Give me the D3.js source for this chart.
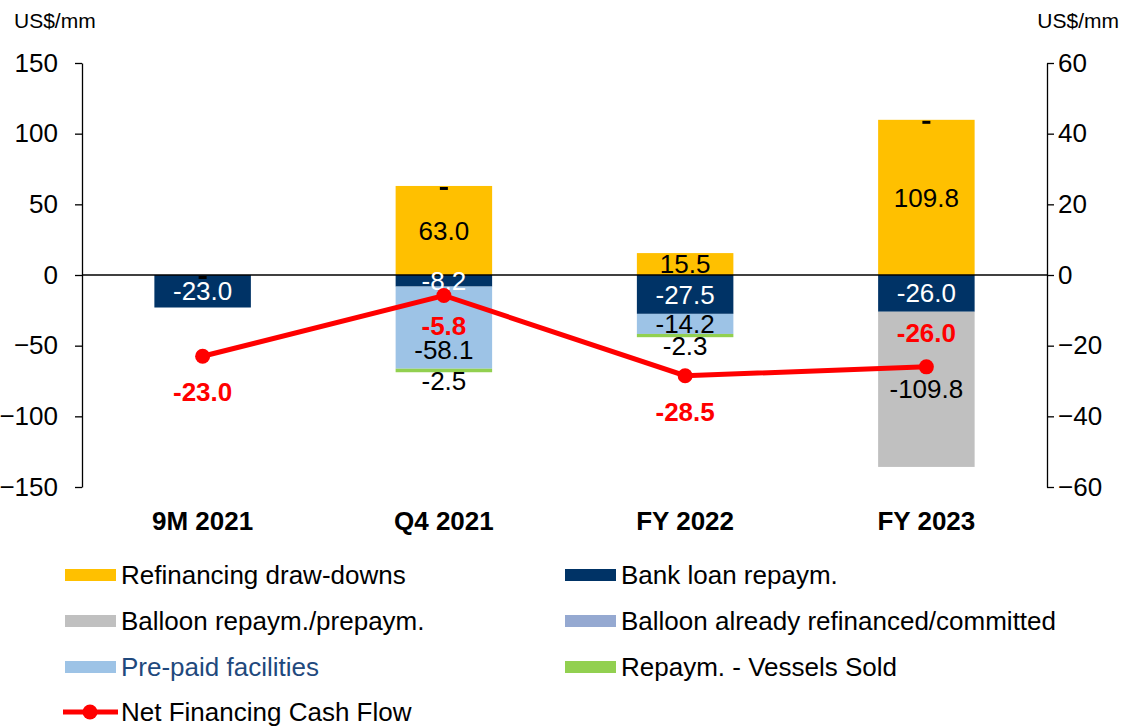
<!DOCTYPE html>
<html>
<head>
<meta charset="utf-8">
<script src="https://cdn.jsdelivr.net/npm/d3@7"></script>
<style>
  body { margin: 0; background: #fff; font-family: "Liberation Sans", Arial, sans-serif; }
  svg text { font-family: "Liberation Sans", Arial, sans-serif; }
</style>
</head>
<body>
<svg id="chart" width="1122" height="726"></svg>
<script>
// chart data
const categories = ["9M 2021", "Q4 2021", "FY 2022", "FY 2023"];
const refinancing = [0, 63.0, 15.5, 109.8];
const bankLoan = [-23.0, -8.2, -27.5, -26.0];
const balloon = [0, 0, 0, -109.8];
const balloonRefinanced = [0, 0, null, 0];
const prePaid = [0, -58.1, -14.2, 0];
const vesselsSold = [0, -2.5, -2.3, 0];
const netCashFlow = [-23.0, -5.8, -28.5, -26.0];
const leftTicks = [150, 100, 50, 0, -50, -100, -150];
const rightTicks = [60, 40, 20, 0, -20, -40, -60];

const series = [
    { name: "Refinancing draw-downs", values: refinancing, color: "#FFC000", text: "#000" },
    { name: "Bank loan repaym.", values: bankLoan, color: "#003366", text: "#fff" },
    { name: "Balloon repaym./prepaym.", values: balloon, color: "#C0C0C0", text: "#000" },
    { name: "Balloon already refinanced/committed", values: balloonRefinanced, color: "#95A9D1", text: "#000" },
    { name: "Pre-paid facilities", values: prePaid, color: "#9DC3E6", text: "#000" },
    { name: "Repaym. - Vessels Sold", values: vesselsSold, color: "#92D050", text: "#000" }
];

const svg = d3.select("#chart");
const plotLeft = 82, plotRight = 1047, plotTop = 63, plotBottom = 487;
const fs = 26;

const x = d3.scaleBand().domain(categories).range([plotLeft, plotRight]).paddingInner(0.6).paddingOuter(0.3);
const y = d3.scaleLinear().domain([-150, 150]).range([plotBottom, plotTop]);
const y2 = d3.scaleLinear().domain([-60, 60]).range([plotBottom, plotTop]);

// axes
const axL = svg.append("g").attr("transform", `translate(${plotLeft},0)`)
    .call(d3.axisLeft(y).tickValues(leftTicks).tickSize(7).tickSizeOuter(0).tickPadding(17));
const axR = svg.append("g").attr("transform", `translate(${plotRight},0)`)
    .call(d3.axisRight(y2).tickValues(rightTicks).tickSize(7).tickSizeOuter(0).tickPadding(4));
[axL, axR].forEach(a => {
    a.selectAll("path, line").attr("stroke", "#000").attr("stroke-width", 1.3);
    a.selectAll("text").attr("font-size", fs).attr("fill", "#000");
});

svg.append("text").attr("x", 14).attr("y", 28).attr("font-size", 21).text("US$/mm");
svg.append("text").attr("x", 1119).attr("y", 28).attr("font-size", 21).attr("text-anchor", "end").text("US$/mm");

// stacked bars
const segs = [];
categories.forEach((c, i) => {
    let pos = 0, neg = 0;
    series.forEach(s => {
        const v = s.values[i];
        if (v === null) return;
        let y0, y1;
        if (v >= 0) { y0 = pos; y1 = pos + v; pos = y1; }
        else { y0 = neg; y1 = neg + v; neg = y1; }
        segs.push({ cat: c, i, v, y0, y1, s });
    });
});

svg.append("g").selectAll("rect")
    .data(segs.filter(d => d.v !== 0))
    .enter().append("rect")
    .attr("x", d => x(d.cat))
    .attr("width", x.bandwidth())
    .attr("y", d => y(Math.max(d.y0, d.y1)))
    .attr("height", d => Math.abs(y(d.y0) - y(d.y1)))
    .attr("fill", d => d.s.color);

// zero line
svg.append("line").attr("x1", plotLeft).attr("x2", plotRight).attr("y1", y(0)).attr("y2", y(0))
    .attr("stroke", "#000").attr("stroke-width", 1.3);

// segment labels
const labelG = svg.append("g");
segs.forEach(d => {
    if (d.v === 0) {
        // zero values of the committed-balloon series show as a dash
        if (d.s.name !== "Balloon already refinanced/committed") return;
        labelG.append("rect").attr("x", x(d.cat) + x.bandwidth() / 2 - 4).attr("y", y(d.y0) + 1)
            .attr("width", 8).attr("height", 3).attr("fill", "#000");
        return;
    }
    let ty = y((d.y0 + d.y1) / 2);
    if (d.s.name === "Repaym. - Vessels Sold") ty = y(d.y1) + 9;
    if (d.s.name === "Pre-paid facilities" && d.cat === "Q4 2021") ty += 22;
    labelG.append("text")
        .attr("x", x(d.cat) + x.bandwidth() / 2)
        .attr("y", ty)
        .attr("dy", "0.35em")
        .attr("text-anchor", "middle")
        .attr("font-size", fs)
        .attr("fill", d.s.text)
        .text(d.v.toFixed(1));
});

// net financing line
const cx = c => x(c) + x.bandwidth() / 2;
svg.append("path")
    .datum(netCashFlow)
    .attr("fill", "none").attr("stroke", "#FF0000").attr("stroke-width", 5)
    .attr("d", d3.line().x((d, i) => cx(categories[i])).y(d => y2(d)));
svg.append("g").selectAll("circle")
    .data(netCashFlow).enter().append("circle")
    .attr("cx", (d, i) => cx(categories[i])).attr("cy", d => y2(d)).attr("r", 7.5)
    .attr("fill", "#FF0000");
svg.append("g").selectAll("text")
    .data(netCashFlow).enter().append("text")
    .attr("x", (d, i) => cx(categories[i]))
    .attr("y", (d, i) => y2(d) + (i === 3 ? -34 : (i === 1 ? 30 : 36)))
    .attr("dy", "0.35em")
    .attr("text-anchor", "middle")
    .attr("font-size", fs).attr("font-weight", "bold").attr("fill", "#FF0000")
    .text(d => d.toFixed(1));

// category labels
svg.append("g").selectAll("text")
    .data(categories).enter().append("text")
    .attr("x", d => cx(d)).attr("y", 521).attr("dy", "0.35em")
    .attr("text-anchor", "middle").attr("font-size", fs).attr("font-weight", "bold")
    .text(d => d);

// legend
const legendItems = [
    { s: series[0], col: 0, row: 0 },
    { s: series[1], col: 1, row: 0 },
    { s: series[2], col: 0, row: 1 },
    { s: series[3], col: 1, row: 1 },
    { s: series[4], col: 0, row: 2, textColor: "#1F497D" },
    { s: series[5], col: 1, row: 2 }
];
const lg = svg.append("g");
legendItems.forEach(it => {
    const lx = it.col === 0 ? 65 : 565;
    const ly = 575 + it.row * 46;
    lg.append("rect").attr("x", lx).attr("y", ly - 6).attr("width", 51).attr("height", 12).attr("fill", it.s.color);
    lg.append("text").attr("x", lx + 56).attr("y", ly).attr("dy", "0.35em")
        .attr("font-size", fs).attr("fill", it.textColor || "#000").text(it.s.name);
});
const ly4 = 575 + 3 * 46 - 1;
lg.append("line").attr("x1", 63).attr("x2", 118).attr("y1", ly4).attr("y2", ly4)
    .attr("stroke", "#FF0000").attr("stroke-width", 5);
lg.append("circle").attr("cx", 90).attr("cy", ly4).attr("r", 7.5).attr("fill", "#FF0000");
lg.append("text").attr("x", 121).attr("y", ly4).attr("dy", "0.35em").attr("font-size", fs).text("Net Financing Cash Flow");
</script>
</body>
</html>
